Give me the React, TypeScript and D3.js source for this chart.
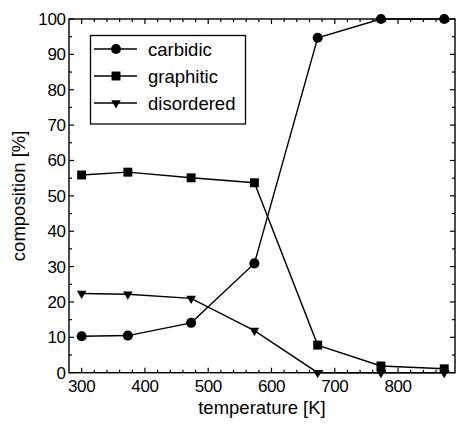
import React, { useEffect, useRef } from 'react';
import * as d3 from 'd3';

// temperatures in K
const temperatures = [300, 373, 473, 573, 673, 773, 873];
const carbidic = [10.3, 10.5, 14.1, 30.9, 94.7, 100, 100];
const graphitic = [55.9, 56.7, 55.1, 53.7, 7.8, 1.9, 1.1];
const disordered = [22.4, 22.2, 21.0, 11.9, 0, 0, 0];
const seriesNames = ['carbidic', 'graphitic', 'disordered'];
const xTicks = [300, 400, 500, 600, 700, 800];
const yTicks = [0, 10, 20, 30, 40, 50, 60, 70, 80, 90, 100];

const App = () => {
  const ref = useRef<HTMLDivElement>(null);

  useEffect(() => {
    d3.select(ref.current).selectAll('*').remove();

    const width = 456;
    const height = 424;
    const left = 69;
    const right = 455;
    const top = 19;
    const bottom = 372.7;
    const font = 'Liberation Sans, Arial, sans-serif';

    const svg = d3
      .select(ref.current)
      .append('svg')
      .attr('width', width)
      .attr('height', height)
      .style('position', 'absolute')
      .style('left', 0)
      .style('top', 0)
      .style('font-family', font);

    const x = d3.scaleLinear().domain([280, 890]).range([left, right]);
    const y = d3.scaleLinear().domain([0, 100]).range([bottom, top]);

    // frame
    svg
      .append('rect')
      .attr('x', left)
      .attr('y', top)
      .attr('width', right - left)
      .attr('height', bottom - top)
      .attr('fill', 'none')
      .attr('stroke', '#000')
      .attr('stroke-width', 1.4);

    // inward ticks on all four sides
    const ticks = svg.append('g').attr('stroke', '#000').attr('stroke-width', 1.2);
    d3.range(300, 881, 20).forEach((v) => {
      const len = v % 100 === 0 ? 5 : 3;
      ticks.append('line').attr('x1', x(v)).attr('x2', x(v)).attr('y1', bottom).attr('y2', bottom - len);
      ticks.append('line').attr('x1', x(v)).attr('x2', x(v)).attr('y1', top).attr('y2', top + len);
    });
    d3.range(0, 101, 5).forEach((v) => {
      const len = v % 10 === 0 ? 5 : 3;
      ticks.append('line').attr('x1', left).attr('x2', left + len).attr('y1', y(v)).attr('y2', y(v));
      ticks.append('line').attr('x1', right).attr('x2', right - len).attr('y1', y(v)).attr('y2', y(v));
    });

    // tick labels
    svg
      .append('g')
      .selectAll('text')
      .data(xTicks)
      .join('text')
      .attr('x', (d) => x(d))
      .attr('y', 391.5)
      .attr('text-anchor', 'middle')
      .attr('font-size', 17)
      .attr('letter-spacing', -0.4)
      .text((d) => d);

    svg
      .append('g')
      .selectAll('text')
      .data(yTicks)
      .join('text')
      .attr('x', 65.5)
      .attr('y', (d) => y(d) + 6)
      .attr('text-anchor', 'end')
      .attr('font-size', 17)
      .attr('letter-spacing', -0.4)
      .text((d) => d);

    // axis titles
    svg
      .append('text')
      .attr('x', (left + right) / 2)
      .attr('y', 414)
      .attr('text-anchor', 'middle')
      .attr('font-size', 18.5)
      .text('temperature [K]');

    svg
      .append('text')
      .attr('transform', `translate(25, ${(top + bottom) / 2}) rotate(-90)`)
      .attr('text-anchor', 'middle')
      .attr('font-size', 18.5)
      .text('composition [%]');

    // markers
    const markers = [
      d3.symbol().type(d3.symbolCircle).size(80),
      d3.symbol().type(d3.symbolSquare).size(80),
      d3.symbol().type(d3.symbolTriangle).size(40),
    ];
    const markerRotate = [0, 0, 180];

    const allSeries = [carbidic, graphitic, disordered];
    const line = d3
      .line<number>()
      .x((_, i) => x(temperatures[i]))
      .y((d) => y(d));

    allSeries.forEach((values, s) => {
      svg
        .append('path')
        .attr('d', line(values))
        .attr('fill', 'none')
        .attr('stroke', '#000')
        .attr('stroke-width', 1.4);

      svg
        .append('g')
        .selectAll('path')
        .data(values)
        .join('path')
        .attr('d', markers[s]())
        .attr('fill', '#000')
        .attr(
          'transform',
          (d, i) => `translate(${x(temperatures[i])}, ${y(d)}) rotate(${markerRotate[s]})`
        );
    });

    // legend
    const legend = svg.append('g');
    legend
      .append('rect')
      .attr('x', 90.5)
      .attr('y', 35.5)
      .attr('width', 155)
      .attr('height', 88.5)
      .attr('fill', '#fff')
      .attr('stroke', '#000')
      .attr('stroke-width', 1.3);

    seriesNames.forEach((name, s) => {
      const ly = 49 + s * 27;
      legend
        .append('line')
        .attr('x1', 94)
        .attr('x2', 137)
        .attr('y1', ly)
        .attr('y2', ly)
        .attr('stroke', '#000')
        .attr('stroke-width', 1.4);
      legend
        .append('path')
        .attr('d', markers[s]())
        .attr('fill', '#000')
        .attr('transform', `translate(116, ${ly}) rotate(${markerRotate[s]})`);
      legend
        .append('text')
        .attr('x', 148)
        .attr('y', ly + 6.5)
        .attr('font-size', 18.5)
        .text(name);
    });
  }, []);

  return <div ref={ref} />;
};

export default App;
